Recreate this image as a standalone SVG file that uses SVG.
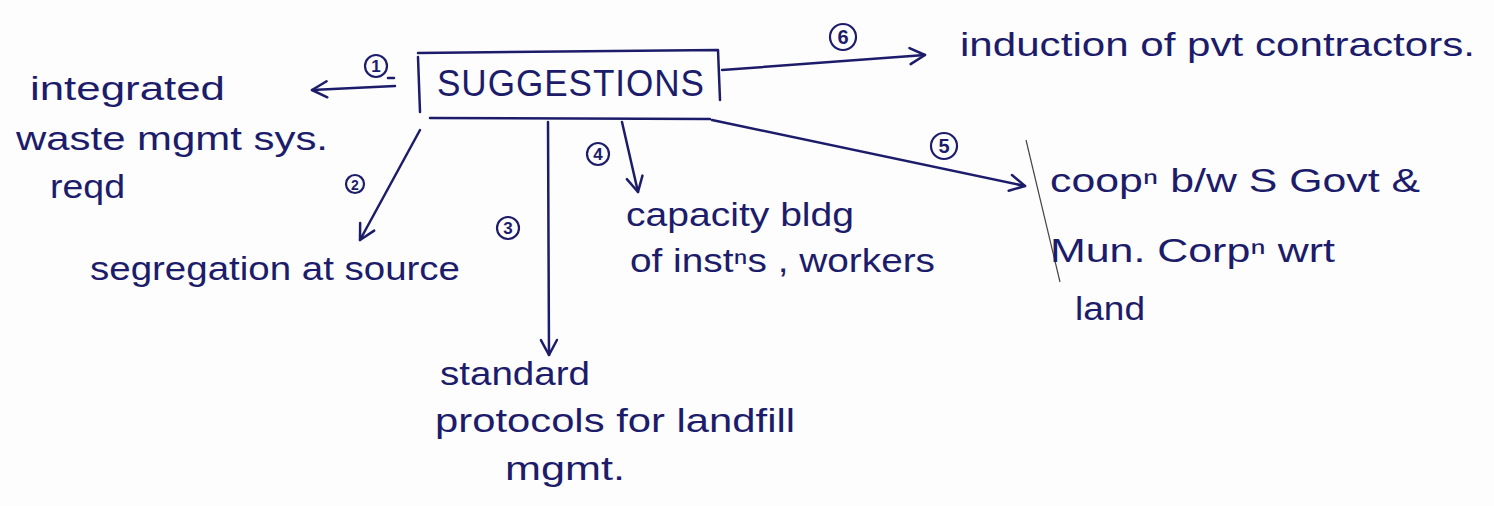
<svg xmlns="http://www.w3.org/2000/svg" width="1494" height="506" viewBox="0 0 1494 506">
<defs>
<style>
.ink{fill:none;stroke:#1c1c6b;stroke-width:2.5;stroke-linecap:round;stroke-linejoin:round}
.t{font-family:"Liberation Sans",Arial,sans-serif;fill:#1c1c6b;font-size:34px}
.h{font-family:"Liberation Sans",Arial,sans-serif;fill:#1c1c6b;font-size:36px;letter-spacing:1px}
.n{font-family:"Liberation Sans",Arial,sans-serif;fill:#1c1c6b;font-size:17px;font-weight:bold;text-anchor:middle}
.c{fill:none;stroke:#1c1c6b;stroke-width:2.2}
</style>
<marker id="ah" viewBox="0 0 20 20" refX="18" refY="10" markerWidth="20" markerHeight="20" markerUnits="userSpaceOnUse" orient="auto">
<path d="M3,2 L18,10 L3,18" fill="none" stroke="#1c1c6b" stroke-width="2.5" stroke-linecap="round" stroke-linejoin="round"/>
</marker>
</defs>
<rect width="1494" height="506" fill="#fdfdfd"/>
<g id="suggestions">
<path class="ink" d="M418,57 L420,112 M418,53 L718,50 L720,100"/>
<text class="h" x="437" y="96" textLength="268" lengthAdjust="spacingAndGlyphs">SUGGESTIONS</text>
</g>
<g id="connectors">
<path class="ink" d="M430,118 L710,119"/>
<path class="ink" d="M395,86 L312,90" marker-end="url(#ah)"/>
<path class="ink" d="M388,78 L394,78"/>
<path class="ink" d="M420,130 L360,240" marker-end="url(#ah)"/>
<path class="ink" d="M548,122 L549,355" marker-end="url(#ah)"/>
<path class="ink" d="M622,122 L638,192" marker-end="url(#ah)"/>
<path class="ink" d="M712,120 L1025,186" marker-end="url(#ah)"/>
<path class="ink" d="M722,70 L925,55" marker-end="url(#ah)"/>
<path d="M1026,140 L1060,282" fill="none" stroke="#444" stroke-width="1.2"/>
<circle class="c" cx="376" cy="66" r="11"/><text class="n" x="376" y="72">1</text>
<circle class="c" cx="355" cy="184" r="9"/><text class="n" x="355" y="190" style="font-size:14px">2</text>
<circle class="c" cx="508" cy="228" r="11"/><text class="n" x="508" y="234">3</text>
<circle class="c" cx="598" cy="154" r="11"/><text class="n" x="598" y="160">4</text>
<circle class="c" cx="944" cy="146" r="13"/><text class="n" x="944" y="153" style="font-size:20px">5</text>
<circle class="c" cx="843" cy="37" r="13"/><text class="n" x="843" y="44" style="font-size:20px">6</text>
</g>
<g id="integrated">
<text class="t" x="30" y="100" textLength="195" lengthAdjust="spacingAndGlyphs">integrated</text>
<text class="t" x="16" y="150" textLength="312" lengthAdjust="spacingAndGlyphs">waste mgmt sys.</text>
<text class="t" x="50" y="198" textLength="75" lengthAdjust="spacingAndGlyphs">reqd</text>
</g>
<g id="segregation">
<text class="t" x="90" y="280" textLength="370" lengthAdjust="spacingAndGlyphs">segregation at source</text>
</g>
<g id="standard">
<text class="t" x="440" y="385" textLength="150" lengthAdjust="spacingAndGlyphs">standard</text>
<text class="t" x="435" y="432" textLength="360" lengthAdjust="spacingAndGlyphs">protocols for landfill</text>
<text class="t" x="505" y="480" textLength="120" lengthAdjust="spacingAndGlyphs">mgmt.</text>
</g>
<g id="capacity">
<text class="t" x="626" y="226" textLength="228" lengthAdjust="spacingAndGlyphs">capacity bldg</text>
<text class="t" x="630" y="272" textLength="305" lengthAdjust="spacingAndGlyphs">of instⁿs , workers</text>
</g>
<g id="coop">
<text class="t" x="1050" y="192" textLength="370" lengthAdjust="spacingAndGlyphs">coopⁿ b/w S Govt &amp;</text>
<text class="t" x="1050" y="262" textLength="285" lengthAdjust="spacingAndGlyphs">Mun. Corpⁿ wrt</text>
<text class="t" x="1075" y="320" textLength="70" lengthAdjust="spacingAndGlyphs">land</text>
</g>
<g id="induction">
<text class="t" x="960" y="56" textLength="515" lengthAdjust="spacingAndGlyphs">induction of pvt contractors.</text>
</g>
</svg>
